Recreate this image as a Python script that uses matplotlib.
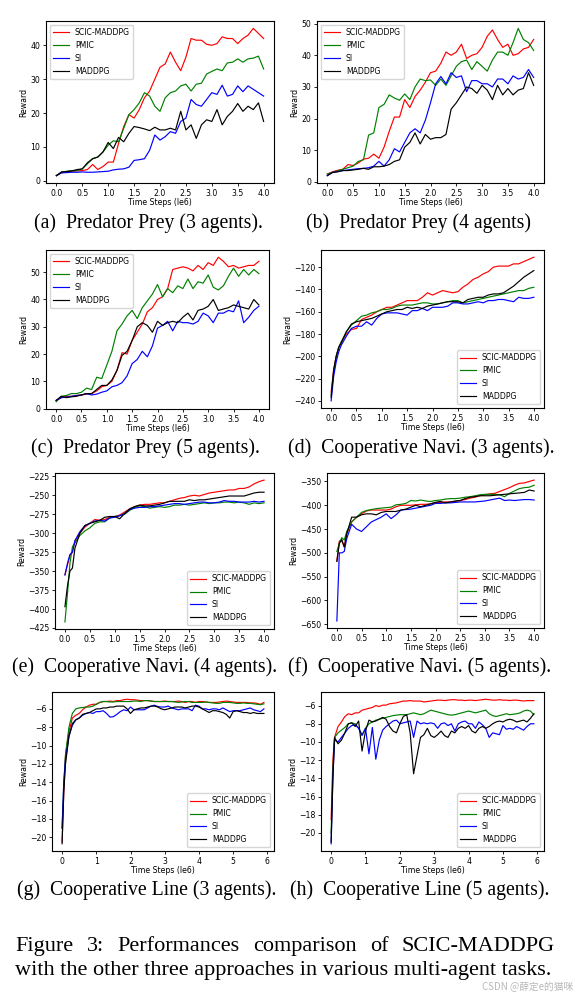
import numpy as np
import matplotlib.pyplot as plt

W, H = 576, 997

labels = ['SCIC-MADDPG', 'PMIC', 'SI', 'MADDPG']
colors = ['r', 'g', 'b', 'k']

# time steps (1e6)
steps_pp = np.round(np.arange(0, 4.01, 0.1), 2)
steps_nav = np.array([0, 0.05, 0.1, 0.15] + list(np.round(np.arange(0.2, 4.01, 0.1), 2)))
steps_line = np.array([0, 0.05] + list(np.round(np.arange(0.1, 5.91, 0.1), 2)))

# (a) Predator Prey, 3 agents
pp3_scic = [1.5, 2.5, 2.7, 2.8, 2.9, 3.0, 3.3, 4.8, 3.3, 4.2, 5.5, 5.5, 11, 16, 19.5, 18.5, 21, 24.5, 26.5, 30,
            33.5, 34.5, 38, 35, 32.5, 36.5, 42, 41.5, 41.5, 40.3, 40, 40.5, 42.5, 42, 42, 40.5, 42, 43, 45, 43.5, 42]
pp3_pmic = [1.5, 2.5, 2.8, 3.0, 3.0, 3.5, 5.0, 6.5, 7.0, 8.5, 10.5, 11.8, 11.5, 15.5, 19.5, 21, 23, 26, 25, 22,
            20.5, 24.5, 26, 26.5, 28, 28.5, 26.5, 28.5, 28.8, 31.5, 32.3, 33, 32.5, 34.8, 35, 36, 35, 36, 36.2, 36.8, 33]
pp3_si = [1.5, 2.3, 2.4, 2.5, 2.5, 2.6, 2.5, 2.5, 2.6, 2.7, 2.8, 3.2, 3.4, 3.5, 4.0, 6.0, 6.2, 6.5, 9.0, 13.5,
          12, 13, 14.5, 14, 17.5, 18.5, 24, 22.5, 22, 24, 26, 25.5, 28.2, 25, 25.5, 28, 26.3, 28, 27, 26, 25]
pp3_maddpg = [1.5, 2.6, 2.7, 2.9, 3.3, 3.5, 5.3, 6.5, 7.0, 8.5, 11.3, 9.5, 12.8, 11.5, 14, 16, 15.7, 15.3, 14.8, 15.8,
              15, 15, 15.5, 15, 20.5, 15, 16.5, 12.5, 16.5, 18, 17.5, 21, 16.5, 19, 20.5, 22.8, 20.5, 22, 21, 23, 17.5]

# (b) Predator Prey, 4 agents
pp4_scic = [2.5, 3.2, 3.7, 4.0, 5.5, 5.2, 6.0, 7.2, 7.5, 8.8, 7.5, 11, 16, 20.5, 20.5, 26, 23.5, 27, 29, 31.5,
            34.5, 35, 37.5, 41, 40, 41, 43.5, 39, 40, 40.5, 42.5, 46, 48, 45, 42.5, 43.5, 40, 40.5, 42, 42.5, 45]
pp4_pmic = [2.5, 3.0, 3.5, 4.0, 4.5, 5.0, 6.5, 7.0, 14.8, 15.5, 23.5, 24.5, 27.5, 26.5, 25.8, 27.8, 26, 30, 32.5, 32,
            32.2, 30.5, 32.5, 30.5, 33.5, 36.5, 38, 38.5, 35.5, 38, 36.5, 35, 38.5, 41, 41, 40, 44, 48.5, 45, 44, 41.5]
pp4_si = [2.0, 3.0, 3.3, 3.6, 3.8, 4.0, 4.2, 4.3, 4.5, 5.0, 6.5, 5.0, 7.0, 10.5, 9.5, 12.5, 15.5, 16.8, 15.5, 19.5,
          25, 31, 33.3, 31, 34.5, 33, 33.5, 28.5, 32, 32, 31, 31, 30, 32.5, 32.5, 31, 33.5, 32.5, 33, 35.5, 33]
pp4_maddpg = [2.0, 3.0, 3.2, 3.6, 3.6, 3.8, 4.0, 4.3, 4.0, 4.8, 4.8, 5.0, 5.5, 6.5, 7.0, 11, 12.5, 15.5, 12, 15,
              13.5, 14, 14, 15, 23, 25, 27.5, 30, 29.5, 28, 30.5, 29, 26, 30.5, 27.5, 29.5, 27.5, 29, 29.5, 34.5, 30.5]

# (c) Predator Prey, 5 agents
pp5_scic = [3, 4.0, 4.5, 4.5, 4.8, 5, 5.3, 5.5, 6.5, 8, 8.5, 10, 14, 20.5, 20, 25, 28, 31, 35.5, 37,
            40, 41, 44, 51, 51.5, 52, 51.5, 50.5, 52.5, 51, 53.5, 52.5, 55.5, 54, 52, 52.5, 51.5, 52, 52.5, 52.5, 54]
pp5_pmic = [2.5, 4.5, 4.8, 5.5, 5.5, 6, 7.5, 7, 11.5, 11, 16, 21, 28.5, 31, 34, 36, 33, 37, 39.5, 42,
            45.5, 41, 44, 42.5, 45, 44, 47.5, 44, 46.5, 46, 49, 44.5, 43.5, 45, 48.5, 51.5, 48.5, 51, 49, 51, 49.5]
pp5_si = [3, 4, 4.2, 4.5, 4.8, 5, 5.5, 5, 5.3, 6, 6.5, 8, 8.5, 9.5, 12, 16.5, 18, 21, 19, 23,
          29.5, 30.5, 32, 28.5, 32, 31.5, 31.5, 31, 32, 35, 34, 31.5, 35, 35, 36, 35.5, 39.5, 31.5, 33.5, 36, 37.5]
pp5_maddpg = [3, 4.5, 4, 4.3, 4.5, 5, 5.5, 5.5, 7, 8.5, 8.5, 10.5, 14, 19.5, 21, 25, 30, 31.5, 30.5, 28,
              32, 30.5, 31.5, 32, 31.5, 33.5, 35, 32.5, 36, 36.5, 37.5, 40, 36, 36.5, 37, 38, 37.5, 37, 36.5, 40, 38]

# (d) Cooperative Navigation, 3 agents
cn3_scic = [-232, -212, -200, -192,
            -187, -180, -176, -175, -167, -165, -163, -160, -158, -156,
            -156, -154, -152, -150, -150, -150, -147, -143, -145, -143,
            -141, -142, -143, -142, -138, -135, -131, -129, -126, -124,
            -120, -119, -119, -119, -117, -117, -115, -113, -111]
cn3_pmic = [-235, -215, -200, -192,
            -187, -178, -172, -168, -164, -163, -161, -160, -158, -158,
            -157, -155, -154, -154, -154, -153, -152, -152, -153, -153,
            -152, -151, -150, -150, -152, -151, -150, -149, -148, -147,
            -146, -145, -144, -143, -142, -141, -141, -139, -138]
cn3_si = [-240, -218, -205, -196,
          -190, -182, -175, -173, -173, -169, -172, -166, -162, -161,
          -161, -161, -162, -163, -159, -159, -157, -159, -156, -156,
          -156, -155, -152, -152, -153, -153, -152, -151, -152, -150,
          -150, -149, -149, -150, -151, -147, -148, -148, -147]
cn3_maddpg = [-237, -212, -200, -192,
              -188, -178, -171, -169, -168, -167, -166, -164, -162, -160,
              -159, -158, -158, -156, -157, -156, -157, -155, -154, -153,
              -152, -151, -151, -151, -152, -149, -148, -147, -147, -145,
              -144, -144, -143, -140, -137, -133, -129, -126, -123]

# (e) Cooperative Navigation, 4 agents
cn4_scic = [-355, -342, -330, -325,
            -310, -300, -292, -287, -282, -283, -282, -279, -278, -276,
            -272, -268, -265, -263, -262, -262, -261, -260, -260, -258,
            -256, -254, -253, -251, -250, -251, -249, -247, -246, -245,
            -244, -243, -243, -241, -241, -239, -235, -232, -230]
cn4_pmic = [-417, -380, -340, -318,
            -313, -303, -297, -293, -287, -285, -285, -280, -278, -277,
            -275, -270, -266, -264, -265, -267, -266, -265, -266, -265,
            -263, -263, -262, -263, -262, -261, -260, -261, -260, -260,
            -259, -259, -260, -259, -260, -262, -260, -261, -260]
cn4_si = [-355, -340, -328, -325,
          -310, -298, -290, -287, -284, -283, -284, -280, -279, -277,
          -274, -269, -267, -266, -266, -265, -265, -264, -263, -262,
          -261, -261, -262, -261, -260, -259, -259, -260, -260, -259,
          -257, -258, -258, -259, -259, -259, -258, -259, -258]
cn4_maddpg = [-397, -370, -350, -346,
              -320, -300, -290, -287, -285, -283, -279, -278, -278, -281,
              -274, -268, -265, -263, -264, -264, -263, -262, -260, -258,
              -258, -258, -258, -256, -257, -256, -256, -255, -254, -253,
              -252, -251, -251, -251, -251, -249, -247, -246, -246]

# (f) Cooperative Navigation, 5 agents
cn5_scic = [-517, -475, -475, -487,
            -460, -435, -425, -418, -412, -410, -410, -410, -410, -408,
            -403, -400, -400, -400, -399, -398, -398, -397, -394, -394,
            -393, -393, -392, -390, -388, -385, -383, -380, -378, -376,
            -375, -371, -367, -363, -358, -354, -353, -350, -347]
cn5_pmic = [-497, -480, -468, -473,
            -455, -435, -425, -415, -411, -409, -407, -406, -405, -404,
            -399, -398, -396, -390, -391, -389, -391, -392, -390, -389,
            -387, -386, -386, -385, -383, -382, -380, -378, -377, -377,
            -377, -378, -382, -375, -370, -365, -363, -362, -358]
cn5_si = [-643, -500, -500, -497,
          -470, -440, -450, -455, -445, -435, -430, -425, -418, -428,
          -420, -410, -409, -408, -406, -404, -402, -400, -396, -396,
          -395, -395, -394, -393, -393, -393, -393, -392, -391, -389,
          -387, -385, -390, -389, -390, -389, -388, -388, -389]
cn5_maddpg = [-518, -480, -472, -488,
              -460, -425, -425, -420, -418, -418, -420, -415, -413, -413,
              -413, -410, -408, -404, -400, -403, -400, -397, -394, -392,
              -395, -393, -391, -390, -386, -383, -382, -380, -380, -380,
              -379, -378, -377, -376, -375, -374, -373, -368, -370]

# (g) Cooperative Line, 3 agents
cl3_scic = [-20.5, -15,
            -11, -8.5, -7.0, -6.7, -6.5, -6.1, -5.8, -5.6, -5.5, -5.5,
            -5.3, -5.2, -5.2, -5.15, -5.2, -5.1, -5.1, -5.0, -4.95, -5.0,
            -5.0, -5.05, -5.1, -5.1, -5.1, -5.15, -5.2, -5.2, -5.2, -5.15,
            -5.2, -5.2, -5.2, -5.15, -5.2, -5.3, -5.2, -5.2, -5.3, -5.2,
            -5.2, -5.25, -5.3, -5.3, -5.3, -5.25, -5.2, -5.15, -5.2, -5.25,
            -5.3, -5.3, -5.3, -5.3, -5.35, -5.35, -5.4, -5.5, -5.3]
cl3_pmic = [-19, -14,
            -11, -8, -6.5, -6.0, -5.9, -5.85, -5.8, -5.8, -5.7, -5.5,
            -5.3, -5.2, -5.2, -5.25, -5.25, -5.2, -5.2, -5.2, -5.2, -5.2,
            -5.15, -5.15, -5.2, -5.1, -5.1, -5.15, -5.2, -5.2, -5.2, -5.2,
            -5.2, -5.2, -5.25, -5.3, -5.25, -5.2, -5.2, -5.3, -5.3, -5.3,
            -5.3, -5.25, -5.3, -5.35, -5.4, -5.4, -5.3, -5.3, -5.3, -5.35,
            -5.4, -5.4, -5.35, -5.4, -5.4, -5.45, -5.5, -5.55, -5.45]
cl3_si = [-19, -14,
          -11.5, -9, -7.8, -7.2, -7.0, -6.7, -6.5, -6.4, -6.5, -6.3,
          -6.3, -6.2, -6.5, -6.9, -6.85, -6.6, -6.3, -6.1, -6.2, -5.8,
          -6.1, -6.1, -6.1, -6.1, -5.9, -5.7, -5.6, -5.75, -5.8, -5.8,
          -5.7, -5.9, -6.0, -6.1, -6.0, -6.0, -6.0, -6.2, -5.6, -5.7,
          -6.0, -6.0, -6.1, -6.0, -6.0, -6.1, -5.9, -6.1, -6.3, -6.2,
          -6.2, -6.2, -6.1, -6.0, -5.9, -6.1, -6.2, -6.3, -6.0]
cl3_maddpg = [-20.7, -15,
              -12, -9, -7.6, -7.2, -7.0, -6.6, -6.5, -6.4, -6.2, -6.0,
              -6.0, -5.9, -5.9, -5.8, -5.8, -5.7, -5.7, -5.7, -6.0, -6.5,
              -6.1, -6.0, -5.9, -5.9, -5.8, -5.7, -5.7, -5.8, -6.0, -6.1,
              -6.0, -5.9, -5.8, -5.8, -5.8, -5.9, -5.8, -5.7, -5.7, -5.8,
              -6.0, -6.2, -6.4, -6.2, -6.2, -6.3, -6.4, -6.6, -7.0, -6.3,
              -6.2, -6.3, -6.4, -6.4, -6.5, -6.4, -6.5, -6.5, -6.5]

# (h) Cooperative Line, 5 agents
cl5_scic = [-18.5, -12,
            -9.5, -8.3, -7.8, -7.2, -6.9, -7.0, -6.8, -6.8, -6.5, -6.4,
            -6.3, -6.2, -6.0, -6.1, -5.95, -5.95, -5.8, -5.75, -5.7, -5.6,
            -5.5, -5.5, -5.45, -5.5, -5.5, -5.5, -5.6, -5.55, -5.5, -5.45,
            -5.4, -5.4, -5.45, -5.4, -5.35, -5.35, -5.4, -5.4, -5.45, -5.4,
            -5.4, -5.45, -5.4, -5.35, -5.3, -5.35, -5.4, -5.4, -5.35, -5.4,
            -5.4, -5.45, -5.4, -5.4, -5.45, -5.5, -5.45, -5.45, -5.45]
cl5_pmic = [-20, -13,
            -9.5, -9.0, -8.7, -8.4, -8.0, -7.9, -8.0, -8.5, -9.2, -8.5,
            -8.0, -7.8, -7.6, -7.5, -7.4, -7.3, -7.2, -7.1, -7.05, -7.0,
            -7.0, -7.0, -6.9, -6.8, -6.9, -7.0, -6.9, -6.7, -6.5, -6.6,
            -6.7, -6.8, -6.9, -7.0, -7.05, -7.0, -6.9, -6.8, -6.7, -6.6,
            -6.7, -6.8, -6.7, -6.6, -6.5, -6.9, -7.1, -7.2, -7.1, -7.0,
            -6.9, -7.0, -6.95, -6.9, -6.8, -6.6, -6.5, -6.6, -7.0]
cl5_si = [-21.2, -14,
          -9.8, -10, -9.5, -9.0, -8.5, -8.2, -8.1, -8.5, -9.3, -8.5,
          -11.3, -8.4, -11.9, -9.8, -8.7, -8.3, -8.0, -7.7, -7.6, -8.0,
          -7.9, -7.8, -7.7, -9.5, -7.7, -8.0, -7.9, -8.0, -7.9, -8.0,
          -8.5, -8.0, -7.9, -8.2, -8.0, -8.8, -8.0, -7.8, -7.7, -8.0,
          -8.0, -8.5, -7.8, -8.1, -8.5, -9.5, -9.0, -9.1, -9.2, -8.2,
          -8.6, -8.5, -8.6, -8.3, -8.5, -8.7, -8.3, -8.0, -8.0]
cl5_maddpg = [-21, -14,
              -9.5, -10.2, -9.8, -9.0, -8.0, -7.9, -8.3, -7.7, -11.0, -8.8,
              -7.6, -7.8, -7.7, -7.5, -7.3, -7.5, -8.3, -8.8, -9.0, -8.0,
              -7.2, -7.0, -9.0, -13.5, -11.5, -9.5, -9.2, -8.5, -9.3, -9.5,
              -9.2, -8.8, -9.3, -9.5, -8.8, -9.0, -8.5, -8.3, -8.5, -8.2,
              -8.8, -9.0, -8.5, -8.3, -8.5, -8.3, -8.0, -7.8, -7.7, -7.8,
              -7.6, -7.5, -7.6, -7.8, -7.7, -7.6, -7.8, -7.4, -6.9]

captions = ['(a)  Predator Prey (3 agents).', '(b)  Predator Prey (4 agents)',
            '(c)  Predator Prey (5 agents).', '(d)  Cooperative Navi. (3 agents).',
            '(e)  Cooperative Navi. (4 agents).', '(f)  Cooperative Navi. (5 agents).',
            '(g)  Cooperative Line (3 agents).', '(h)  Cooperative Line (5 agents).']

fig = plt.figure(figsize=(W / 100, H / 100), dpi=100)
serif = 'Liberation Serif'


def add_panel(box, x, series, loc, xticks, yticks, caption, cap_xy):
    l, t, r, b = box
    ax = fig.add_axes([l / W, 1 - b / H, (r - l) / W, (b - t) / H])
    for y, lab, c in zip(series, labels, colors):
        ax.plot(x, y, color=c, lw=0.85, label=lab)
    ax.set_xticks(xticks)
    ax.set_yticks(yticks)
    ax.tick_params(labelsize=5.6, length=2.5, width=0.6, pad=1.5)
    for s in ax.spines.values():
        s.set_linewidth(0.8)
    ax.set_xlabel('Time Steps (le6)', fontsize=5.6, labelpad=0)
    ax.set_ylabel('Reward', fontsize=5.6, labelpad=1.5)
    ax.legend(loc=loc, fontsize=5.6)
    fig.text(cap_xy[0] / W, 1 - cap_xy[1] / H, caption, ha='center', va='center',
             family=serif, fontsize=14.2)
    return ax


x_pp_ticks = np.arange(0, 4.01, 0.5)
x_line_ticks = np.arange(0, 7, 1)

add_panel((46, 21, 274, 183), steps_pp, [pp3_scic, pp3_pmic, pp3_si, pp3_maddpg], 'upper left',
          x_pp_ticks, np.arange(0, 41, 10), captions[0], (148, 223))
add_panel((317, 21, 544, 183), steps_pp, [pp4_scic, pp4_pmic, pp4_si, pp4_maddpg], 'upper left',
          x_pp_ticks, np.arange(0, 51, 10), captions[1], (419, 223))
add_panel((46, 250, 269, 409), steps_pp, [pp5_scic, pp5_pmic, pp5_si, pp5_maddpg], 'upper left',
          x_pp_ticks, np.arange(0, 51, 10), captions[2], (145, 448))
add_panel((321, 250, 544, 408), steps_nav, [cn3_scic, cn3_pmic, cn3_si, cn3_maddpg], 'lower right',
          x_pp_ticks, np.arange(-240, -119, 20), captions[3], (421, 448))
add_panel((55, 473, 274, 629), steps_nav, [cn4_scic, cn4_pmic, cn4_si, cn4_maddpg], 'lower right',
          x_pp_ticks, np.arange(-425, -224, 25), captions[4], (145, 667))
add_panel((327, 473, 544, 628), steps_nav, [cn5_scic, cn5_pmic, cn5_si, cn5_maddpg], 'lower right',
          x_pp_ticks, np.arange(-650, -349, 50), captions[5], (420, 667))
add_panel((52, 692, 274, 851), steps_line, [cl3_scic, cl3_pmic, cl3_si, cl3_maddpg], 'lower right',
          x_line_ticks, np.arange(-20, -5, 2), captions[6], (147, 890))
add_panel((321, 692, 544, 851), steps_line, [cl5_scic, cl5_pmic, cl5_si, cl5_maddpg], 'lower right',
          x_line_ticks, np.arange(-20, -5, 2), captions[7], (420, 890))

# figure caption, first line justified across the column
renderer = fig.canvas.get_renderer()
line1 = 'Figure 3: Performances comparison of SCIC-MADDPG'.split()
line2 = 'with the other three approaches in various multi-agent tasks.'
x0, x1 = 15, 555

probe = fig.text(0, 0, line2, family=serif, fontsize=14)
cap_size = 14 * (x1 - x0) / probe.get_window_extent(renderer).width
probe.remove()

fig.text(x0 / W, 1 - 970 / H, line2, family=serif, fontsize=cap_size, va='center', ha='left')
words = [fig.text(0, 1 - 946 / H, w, family=serif, fontsize=cap_size, va='center', ha='left')
         for w in line1]
widths = [t.get_window_extent(renderer).width for t in words]
gap = (x1 - x0 - sum(widths)) / (len(words) - 1)
pos = x0
for t, w in zip(words, widths):
    t.set_x(pos / W)
    pos += w + gap

fig.text(573 / W, 1 - 987 / H, 'CSDN @薛定e的猫咪', ha='right', va='center', fontsize=7,
         color='#b8b8b8', family=['Noto Sans CJK SC', 'DejaVu Sans'])

fig.savefig('out.png', dpi=100)
